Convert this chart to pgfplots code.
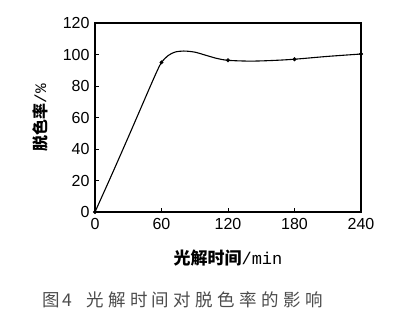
\documentclass[border=0pt]{standalone}
\usepackage{fontspec}
\usepackage{pgfplots}
\pgfplotsset{compat=1.18}
\setmainfont{Liberation Sans}
\setmonofont{Liberation Mono}
\newfontfamily\cjk{Noto Sans CJK SC}
\newfontfamily\cjkcap{Noto Sans CJK SC}[LetterSpace=25]
\begin{document}
\begin{tikzpicture}
\path[use as bounding box] (0pt,0pt) rectangle (412pt,318pt);
\begin{axis}[
  at={(95pt,106pt)}, anchor=south west,
  width=266pt, height=189pt, scale only axis,
  xmin=0, xmax=240, ymin=0, ymax=120,
  xtick={0,60,120,180,240}, ytick={0,20,40,60,80,100,120},
  xtick pos=bottom, ytick pos=left,
  tick align=inside, major tick length=4pt,
  axis line style={line width=1.8pt},
  tick style={line width=0.8pt, black},
  /pgf/number format/assume math mode=true,
  tick label style={font=\fontsize{16}{18}\selectfont},
  xticklabel style={yshift=-3pt},
  yticklabel style={xshift=-2pt},
  xlabel={\cjk\bfseries 光解时间\normalfont\ttfamily/min},
  xlabel style={at={(axis description cs:0.5,-0.243)}, anchor=center, font=\fontsize{17}{19}\selectfont},
  ylabel={\cjk\bfseries 脱色率\normalfont\ttfamily/\%},
  ylabel style={at={(axis description cs:-0.207,0.5)}, anchor=center, rotate=0, font=\fontsize{16}{18}\selectfont},
]
\addplot[smooth, line width=1.1pt, black] coordinates {
 (0,0) (15,23.5) (30,47.5) (42,67) (50,80) (56,89.5) (60,95)
 (66,99.3) (72,101.5) (80,102.2) (90,101.5) (100,99.5) (110,97.5) (120,96.3)
 (140,95.8) (160,96.2) (180,97) (210,98.8) (240,100.3)};
\addplot[only marks, mark=*, mark size=1.8pt, black] coordinates {
 (0,0) (60,95) (120,96.3) (180,97) (240,100.3)};
\end{axis}
\node[anchor=west, text=black!70, font=\fontsize{17.5}{19}\selectfont, inner sep=0pt] at (42pt,18pt) {\cjkcap 图\,4\hspace{14pt}光解时间对脱色率的影响};
\end{tikzpicture}
\end{document}
